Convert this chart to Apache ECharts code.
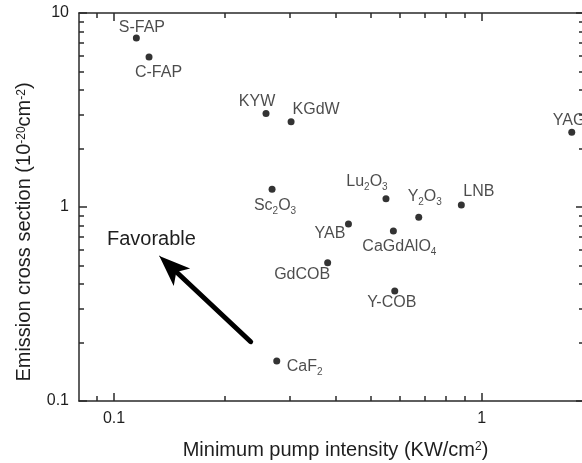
<!DOCTYPE html>
<html><head><meta charset="utf-8">
<script src="https://cdn.jsdelivr.net/npm/echarts@6/dist/echarts.min.js"></script>
<style>html,body{margin:0;padding:0;background:#fff}#c{width:582px;height:463px}</style>
</head><body><div id="c"></div>
<script>
// ---- data ----
const materials = ['S-FAP','C-FAP','KYW','KGdW','YAG','Sc2O3','Lu2O3','Y2O3','LNB','YAB','CaGdAlO4','GdCOB','Y-COB','CaF2'];
const pumpIntensity = [0.115,0.1245,0.259,0.303,1.757,0.269,0.549,0.674,0.880,0.434,0.575,0.381,0.580,0.277];
const crossSection  = [7.43,5.93,3.03,2.75,2.43,1.234,1.104,0.885,1.024,0.817,0.752,0.516,0.369,0.161];
const xMajorTicks = [0.1, 1];
const xMinorTicks = [0.09,0.2,0.3,0.4,0.5,0.6,0.7,0.8,0.9];
const yMajorTicks = [0.1, 1, 10];
const yMinorTicks = [0.2,0.3,0.4,0.5,0.6,0.7,0.8,0.9,2,3,4,5,6,7,8,9];
const xRange = [0.0803, 1.897];
const yRange = [0.1, 10];
const arrowTail = [0.2353, 0.2021];
const arrowTip = [0.1328, 0.559];
const annotationText = 'Favorable';
const xTitle = 'Minimum pump intensity (KW/cm{sup|2})';
const yTitle = 'Emission cross section (10{sup|-20}cm{sup|-2})';

// ---- label placement (style only) ----
const labelPlace = {
  'S-FAP':   {align:'center', offset:[5.5,-10]},
  'C-FAP':   {align:'center', offset:[9.5,16]},
  'KYW':     {align:'center', offset:[-9,-12]},
  'KGdW':    {align:'left',   offset:[1.5,-12]},
  'YAG':     {align:'left',   offset:[-19,-12]},
  'Sc2O3':   {align:'center', offset:[3,16]},
  'Lu2O3':   {align:'center', offset:[-19,-17]},
  'Y2O3':    {align:'center', offset:[6,-21]},
  'LNB':     {align:'left',   offset:[2,-13]},
  'YAB':     {align:'right',  offset:[-3,10]},
  'CaGdAlO4':{align:'center', offset:[6,16]},
  'GdCOB':   {align:'right',  offset:[2.5,11.5]},
  'Y-COB':   {align:'center', offset:[-3,12]},
  'CaF2':    {align:'left',   offset:[10,6]}
};

const FONT = '"Liberation Sans", Arial, sans-serif';
const INK = '#1e1e1e';
const lineStyle = {color: '#2a2a2a', width: 1.5};

function fmtName(n){ return n.replace(/(\d)/g, '{s|$1}'); }
function fmtTick(v){ return String(v); }

function mkX(pos, ticks, len, main){
  return {
    type:'log', logBase:10, gridIndex:0, position:pos, min:xRange[0], max:xRange[1],
    axisLine:{show: main, lineStyle: lineStyle},
    axisTick:{show:true, inside:true, length:len, customValues:ticks, lineStyle: lineStyle},
    axisLabel:{show:false},
    minorTick:{show:false}, splitLine:{show:false}, minorSplitLine:{show:false}
  };
}
function mkY(pos, ticks, len, main){
  return {
    type:'log', logBase:10, gridIndex:0, position:pos, min:yRange[0], max:yRange[1],
    axisLine:{show: main, lineStyle: lineStyle},
    axisTick:{show:true, inside:true, length:len, customValues:ticks, lineStyle: lineStyle},
    axisLabel:{show:false},
    minorTick:{show:false}, splitLine:{show:false}, minorSplitLine:{show:false}
  };
}
const titleRich = {sup:{fontSize:12, lineHeight:12, padding:[2,0,0,0], verticalAlign:'top', color:INK, fontFamily:FONT}};

const xMain = mkX('bottom', xMajorTicks, 8, true);
xMain.axisLabel = {show:true, customValues:xMajorTicks, formatter:fmtTick, fontSize:16, color:INK, fontFamily:FONT, margin:10};
xMain.name = xTitle; xMain.nameLocation = 'middle'; xMain.nameGap = 38;
xMain.nameTextStyle = {fontSize:20, color:INK, fontFamily:FONT, lineHeight:22, padding:[0,0,0,8], rich:titleRich};

const yMain = mkY('left', yMajorTicks, 8, true);
yMain.axisLabel = {show:true, customValues:yMajorTicks, formatter:fmtTick, fontSize:16, color:INK, fontFamily:FONT, margin:10};
yMain.name = yTitle; yMain.nameLocation = 'middle'; yMain.nameGap = 31;
yMain.nameTextStyle = {fontSize:20, color:INK, fontFamily:FONT, lineHeight:22, padding:[0,50,0,0], rich:titleRich};

const lg = Math.log10;
const f = 0.88;
const shaftEnd = [
  Math.pow(10, lg(arrowTail[0]) + f*(lg(arrowTip[0]) - lg(arrowTail[0]))),
  Math.pow(10, lg(arrowTail[1]) + f*(lg(arrowTip[1]) - lg(arrowTail[1])))
];

const points = materials.map((m,i) => ({
  name: m,
  value: [pumpIntensity[i], crossSection[i]],
  label: {align: labelPlace[m].align, offset: labelPlace[m].offset}
}));

const chart = echarts.init(document.getElementById('c'), null, {renderer:'canvas'});
chart.setOption({
  animation:false,
  backgroundColor:'#fff',
  grid:{left:79, width:505, top:13, height:388, containLabel:false, outerBoundsMode:'none'},
  xAxis:[xMain, mkX('bottom', xMinorTicks, 5, false), mkX('top', xMajorTicks, 8, true), mkX('top', xMinorTicks, 5, false)],
  yAxis:[yMain, mkY('left', yMinorTicks, 5, false), mkY('right', yMajorTicks, 8, true), mkY('right', yMinorTicks, 5, false)],
  graphic:[{type:'text', left:107, top:229, style:{text:annotationText, fontSize:20, fontFamily:FONT, fill:INK}}],
  series:[{
    type:'scatter', xAxisIndex:0, yAxisIndex:0, symbol:'circle', symbolSize:7,
    itemStyle:{color:'#000'}, clip:false,
    emphasis:{disabled:true},
    label:{show:true, position:'inside', verticalAlign:'middle', color:INK, fontSize:16, lineHeight:17, fontFamily:FONT,
      formatter: p => fmtName(p.name),
      rich:{s:{fontSize:10, lineHeight:10, padding:[9,0,0,0], verticalAlign:'top', color:INK, fontFamily:FONT}}},
    data: points,
    markLine:{
      silent:true, animation:false, symbol:['none','none'], label:{show:false}, emphasis:{disabled:true},
      data:[
        [{coord:arrowTail, lineStyle:{width:5, color:'#000', type:'solid', cap:'round'}}, {coord:shaftEnd}],
        [{coord:shaftEnd, symbol:'none', lineStyle:{width:1, color:'#000', type:'solid'}},
         {coord:arrowTip, symbol:'arrow', symbolSize:[18,31]}]
      ]
    }
  }]
});
</script></body></html>
